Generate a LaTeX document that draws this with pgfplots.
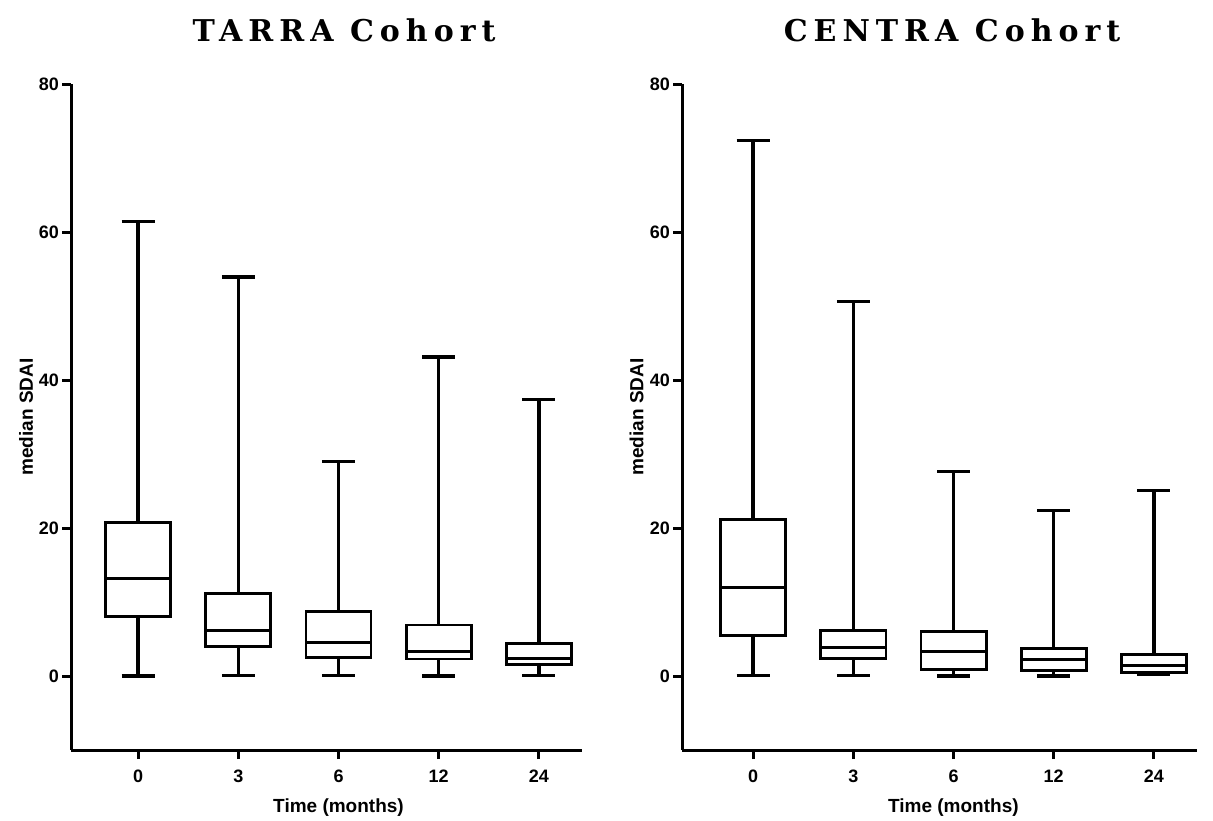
\documentclass[border=0pt]{standalone}
\usepackage{fontspec}
\setmainfont{Liberation Sans}
\newfontfamily\titlefont[LetterSpace=20]{DejaVu Serif}
\usepackage{pgfplots}
\usepgfplotslibrary{statistics}
\pgfplotsset{compat=1.18}
\pgfplotsset{
  myax/.style={
    scale only axis, axis lines=left,
    axis line style={-, line width=1.5pt},
    ymin=-10, ymax=80, ytick={0,20,40,60,80},
    xtick={0,1,2,3,4}, xticklabels={0,3,6,12,24},
    tick align=outside, major tick length=4.5pt,
    every tick/.style={line width=1.5pt, black},
    ticklabel style={font=\fontsize{9}{10}\selectfont\bfseries},
    yticklabel style={xshift=2pt},
    xticklabel style={yshift=-2pt},
    label style={font=\fontsize{9.5}{11}\selectfont\bfseries},
    /pgf/number format/assume math mode=true,
    ylabel={median SDAI}, xlabel={Time (months)},
    ylabel style={at={(axis description cs:-0.088,0.5)}, anchor=center},
    height=333pt,
    boxplot/draw direction=y,
    boxplot/box extend=0.65, boxplot/whisker extend=0.33,
    boxplot/every box/.style={line width=1.4pt, black},
    boxplot/every whisker/.style={line width=1.7pt, black},
    boxplot/every median/.style={line width=1.4pt, black},
    clip=false,
  },
  bx/.style={black, line width=1.4pt, solid},
}
\begin{document}
\begin{tikzpicture}
\useasboundingbox (0,0) rectangle (606.5pt,410pt);
\node[font=\titlefont\bfseries\fontsize{15}{17}\selectfont] at (172pt,395pt) {TARRA Cohort};
\node[font=\titlefont\bfseries\fontsize{15}{17}\selectfont] at (476pt,395pt) {CENTRA Cohort};

\begin{axis}[myax, at={(35.5pt,35pt)}, anchor=south west, width=255.5pt,
  xmin=-0.67, xmax=4.43,
  xlabel style={at={(axis description cs:0.5235,0)}, anchor=center, yshift=-29pt}]
\addplot[bx, boxplot prepared={draw position=0, lower whisker=0, lower quartile=8.0, median=13.2, upper quartile=20.7, upper whisker=61.4}] coordinates {};
\addplot[bx, boxplot prepared={draw position=1, lower whisker=0.1, lower quartile=4.0, median=6.2, upper quartile=11.1, upper whisker=53.9}] coordinates {};
\addplot[bx, boxplot prepared={draw position=2, lower whisker=0.1, lower quartile=2.5, median=4.5, upper quartile=8.7, upper whisker=29.0}] coordinates {};
\addplot[bx, boxplot prepared={draw position=3, lower whisker=0, lower quartile=2.3, median=3.3, upper quartile=6.9, upper whisker=43.1}] coordinates {};
\addplot[bx, boxplot prepared={draw position=4, lower whisker=0.1, lower quartile=1.6, median=2.4, upper quartile=4.4, upper whisker=37.4}] coordinates {};
\end{axis}

\begin{axis}[myax, at={(341pt,35pt)}, anchor=south west, width=257.5pt,
  xmin=-0.71, xmax=4.43,
  xlabel style={at={(axis description cs:0.527,0)}, anchor=center, yshift=-29pt}]
\addplot[bx, boxplot prepared={draw position=0, lower whisker=0.1, lower quartile=5.5, median=12.0, upper quartile=21.2, upper whisker=72.4}] coordinates {};
\addplot[bx, boxplot prepared={draw position=1, lower whisker=0.1, lower quartile=2.4, median=3.8, upper quartile=6.2, upper whisker=50.6}] coordinates {};
\addplot[bx, boxplot prepared={draw position=2, lower whisker=0, lower quartile=0.9, median=3.3, upper quartile=6.0, upper whisker=27.6}] coordinates {};
\addplot[bx, boxplot prepared={draw position=3, lower whisker=0, lower quartile=0.7, median=2.2, upper quartile=3.7, upper whisker=22.4}] coordinates {};
\addplot[bx, boxplot prepared={draw position=4, lower whisker=0.2, lower quartile=0.5, median=1.4, upper quartile=2.9, upper whisker=25.1}] coordinates {};
\end{axis}
\end{tikzpicture}
\end{document}
